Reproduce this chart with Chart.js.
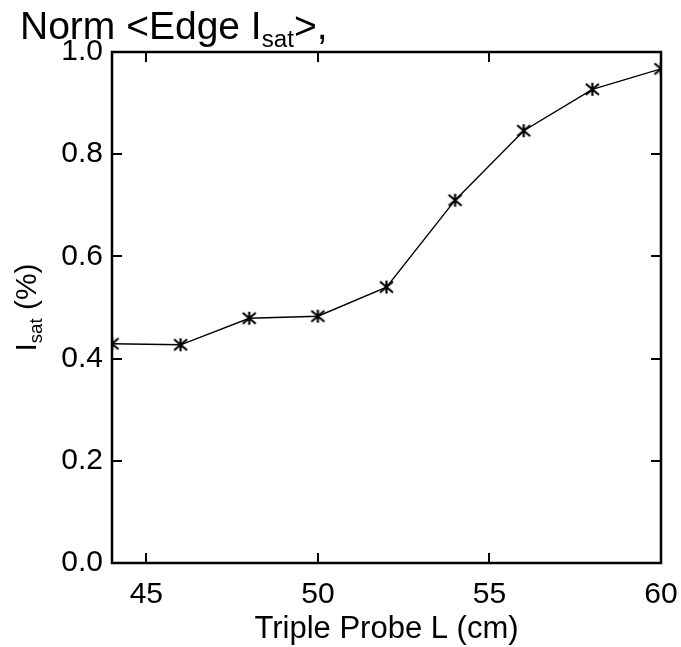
<!DOCTYPE html>
<html>
<head>
<meta charset="utf-8">
<title>Norm Edge Isat</title>
<script src="https://cdn.jsdelivr.net/npm/chart.js@4/dist/chart.umd.min.js"></script>
<style>
  html, body { margin: 0; padding: 0; background: #fff; }
  #wrap { width: 681px; height: 647px; }
</style>
</head>
<body>
<div id="wrap"><canvas id="isatChart" width="681" height="647"></canvas></div>
<script>
// --- data ---
const probeL = [44, 46, 48, 50, 52, 54, 56, 58, 60];
const isatNorm = [0.429, 0.427, 0.479, 0.483, 0.540, 0.710, 0.846, 0.927, 0.967];
const xTickValues = [45, 50, 55, 60];
const yTickValues = [0.0, 0.2, 0.4, 0.6, 0.8, 1.0];

const FONT = '"Liberation Sans", Arial, Helvetica, sans-serif';

// asterisk marker: vertical stroke plus two diagonals
function makeAsterisk(r) {
    const c = document.createElement('canvas');
    const s = r * 2 + 4;
    c.width = s; c.height = s;
    const g = c.getContext('2d');
    const m = s / 2;
    g.strokeStyle = '#000';
    g.lineWidth = 2.2;
    g.beginPath();
    g.moveTo(m, m - r); g.lineTo(m, m + r);
    const dx = r, dy = r * 0.85;
    g.moveTo(m - dx, m - dy); g.lineTo(m + dx, m + dy);
    g.moveTo(m - dx, m + dy); g.lineTo(m + dx, m - dy);
    g.stroke();
    return c;
}
const asterisk = makeAsterisk(6.5);

// draws text runs, some as subscripts
function drawRuns(ctx, runs, x, y, size) {
    let cx = x;
    runs.forEach(r => {
        const fs = r.sub ? size * 0.62 : size;
        ctx.font = fs + 'px ' + FONT;
        ctx.fillText(r.t, cx, r.sub ? y + size * 0.2 : y);
        cx += ctx.measureText(r.t).width;
    });
    return cx - x;
}
function runsWidth(ctx, runs, size) {
    let w = 0;
    runs.forEach(r => {
        ctx.font = (r.sub ? size * 0.62 : size) + 'px ' + FONT;
        w += ctx.measureText(r.t).width;
    });
    return w;
}

const boxAndTitles = {
    id: 'boxAndTitles',
    afterDatasetsDraw(chart) {
        const { ctx, chartArea: a, scales: { x, y } } = chart;
        ctx.save();
        ctx.strokeStyle = '#000';
        ctx.lineWidth = 2.5;
        ctx.strokeRect(a.left, a.top, a.right - a.left, a.bottom - a.top);

        // inward ticks on all four sides
        const tl = 10;
        ctx.lineWidth = 2;
        ctx.beginPath();
        x.ticks.forEach(t => {
            const px = Math.round(x.getPixelForValue(t.value));
            ctx.moveTo(px, a.bottom); ctx.lineTo(px, a.bottom - tl);
            ctx.moveTo(px, a.top); ctx.lineTo(px, a.top + tl);
        });
        y.ticks.forEach(t => {
            const py = Math.round(y.getPixelForValue(t.value));
            ctx.moveTo(a.left, py); ctx.lineTo(a.left + tl, py);
            ctx.moveTo(a.right, py); ctx.lineTo(a.right - tl, py);
        });
        ctx.stroke();

        ctx.fillStyle = '#000';
        ctx.textBaseline = 'alphabetic';
        ctx.textAlign = 'left';

        // main title
        drawRuns(ctx, [{ t: 'Norm <Edge I' }, { t: 'sat', sub: true }, { t: '>,' }], 20, 39, 39);

        // x axis title
        ctx.font = '31px ' + FONT;
        ctx.textAlign = 'center';
        ctx.fillText('Triple Probe L (cm)', (a.left + a.right) / 2, 638);

        // y axis title, rotated
        const yRuns = [{ t: 'I' }, { t: 'sat', sub: true }, { t: ' (%)' }];
        const w = runsWidth(ctx, yRuns, 30);
        ctx.translate(36, (a.top + a.bottom) / 2);
        ctx.rotate(-Math.PI / 2);
        ctx.textAlign = 'left';
        drawRuns(ctx, yRuns, -w / 2, 0, 30);
        ctx.restore();
    }
};

new Chart(document.getElementById('isatChart'), {
    type: 'line',
    data: {
        datasets: [{
            data: probeL.map((v, i) => ({ x: v, y: isatNorm[i] })),
            borderColor: '#000',
            borderWidth: 1.4,
            pointStyle: asterisk,
            pointRadius: 7,
            clip: 0,
            tension: 0,
            fill: false
        }]
    },
    options: {
        responsive: false,
        animation: false,
        layout: { padding: { top: 52, right: 20, left: 0, bottom: 0 } },
        plugins: { legend: { display: false }, tooltip: { enabled: false } },
        scales: {
            x: {
                type: 'linear',
                min: 44, max: 60,
                afterBuildTicks: s => { s.ticks = xTickValues.map(v => ({ value: v })); },
                afterFit: s => { s.height = 84; s.paddingLeft = 0; s.paddingRight = 0; },
                grid: { display: false, drawTicks: false },
                border: { display: false },
                ticks: { color: '#000', padding: 14, maxRotation: 0, font: { family: FONT, size: 30 } }
            },
            y: {
                min: 0, max: 1,
                afterBuildTicks: s => { s.ticks = yTickValues.map(v => ({ value: v })); },
                afterFit: s => { s.width = 112; s.paddingTop = 0; s.paddingBottom = 0; },
                grid: { display: false, drawTicks: false },
                border: { display: false },
                ticks: {
                    color: '#000', padding: 9,
                    font: { family: FONT, size: 30 },
                    callback: v => v.toFixed(1)
                }
            }
        }
    },
    plugins: [boxAndTitles]
});
</script>
</body>
</html>
